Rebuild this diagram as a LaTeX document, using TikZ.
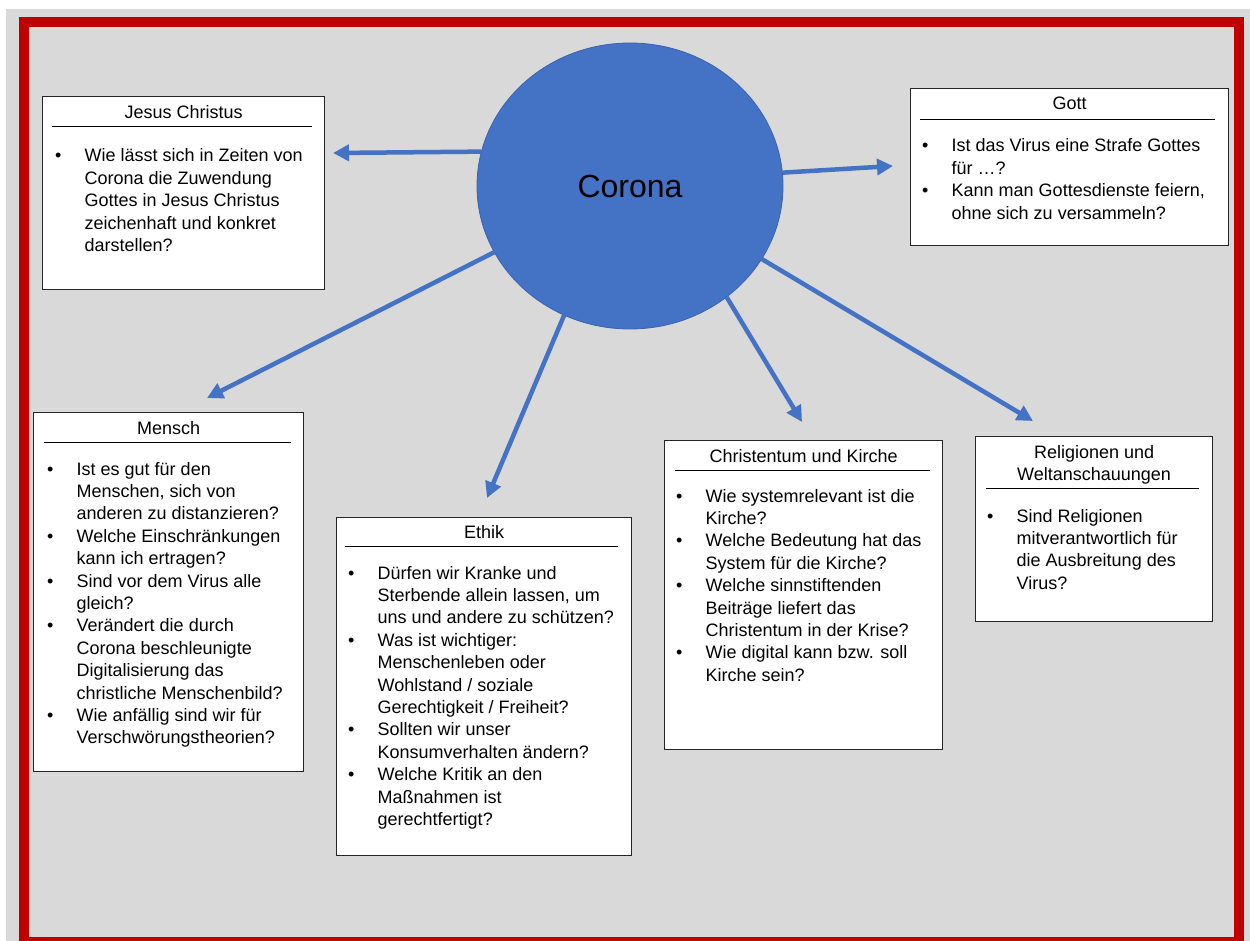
\documentclass[tikz,border=0pt]{standalone}
\usepackage{fontspec}
\setmainfont{Liberation Sans}
\usetikzlibrary{arrows.meta,shapes.geometric}
\definecolor{bgray}{HTML}{D9D9D9}
\definecolor{fred}{HTML}{C00000}
\definecolor{cblue}{HTML}{4472C4}
\definecolor{cedge}{HTML}{3A63B0}
\newlength{\bw}
\setlength{\bw}{29.5pt}
\newcommand{\itm}{\makebox[\bw][l]{\raisebox{0pt}{•}}}
\newcommand{\cnt}{\hspace*{\bw}}
\tikzset{
  box/.style={draw=black!85, line width=1.2pt, fill=white, rectangle, inner sep=0pt, anchor=north west},
  ttl/.style={anchor=base, inner sep=0pt, font=\fontsize{18}{22}\selectfont},
  body/.style={anchor=base west, inner sep=0pt, font=\fontsize{18}{22.4}\selectfont},
  uline/.style={line width=0.9pt, black},
  arr/.style={cblue, line width=4.5pt, -{Triangle[length=16pt,width=16pt]}},
}
\begin{document}
\begin{tikzpicture}[x=1pt,y=-1pt]
\useasboundingbox (0,0) rectangle (1250,941);
\fill[white] (0,0) rectangle (1250,941);
\fill[bgray] (6,9) rectangle (1250,941);
\draw[fred, line width=10pt] (24,22) rectangle (1239,942);

% central ellipse
\node[ellipse, fill=cblue, draw=cedge, line width=0.8pt, minimum width=306pt, minimum height=286pt, inner sep=0pt, font=\fontsize{32}{36}\selectfont] (corona) at (630,186) {Corona};

% boxes
\node[box, minimum width=282pt, minimum height=193pt] (jesus) at (42,96) {};
\node[box, minimum width=318pt, minimum height=157pt] (gott) at (910,88) {};
\node[box, minimum width=270pt, minimum height=359pt] (mensch) at (33,412) {};
\node[box, minimum width=295pt, minimum height=338pt] (ethik) at (336,517) {};
\node[box, minimum width=278pt, minimum height=309pt] (kirche) at (664,440) {};
\node[box, minimum width=237pt, minimum height=185pt] (relig) at (975,436) {};

% titles
\node[ttl] (tj) at (jesus.north |- 0,119) {Jesus Christus};
\draw[uline] (52,126) -- (312,126);
\node[ttl] (tg) at (gott.north |- 0,110) {Gott};
\draw[uline] (920,119) -- (1215,119);
\node[ttl] (tm) at (mensch.north |- 0,434) {Mensch};
\draw[uline] (44,442) -- (291,442);
\node[ttl] (te) at (ethik.north |- 0,538) {Ethik};
\draw[uline] (345,546) -- (618,546);
\node[ttl] (tk) at (kirche.north |- 0,462) {Christentum und Kirche};
\draw[uline] (675,470) -- (930,470);
\node[ttl] (tr) at (relig.north |- 0,458) {\begin{tabular}[t]{@{}c@{}}Religionen und\\Weltanschauungen\end{tabular}};
\draw[uline] (986,488) -- (1199,488);

% bodies
\node[body] (bj) at (55,162) {\begin{tabular}[t]{@{}l@{}}
\itm Wie lässt sich in Zeiten von\\
\cnt Corona die Zuwendung\\
\cnt Gottes in Jesus Christus\\
\cnt zeichenhaft und konkret\\
\cnt darstellen?
\end{tabular}};

\node[body] (bg) at (922,152) {\begin{tabular}[t]{@{}l@{}}
\itm Ist das Virus eine Strafe Gottes\\
\cnt für …?\\
\itm Kann man Gottesdienste feiern,\\
\cnt ohne sich zu versammeln?
\end{tabular}};

\node[body] (bm) at (47,475) {\begin{tabular}[t]{@{}l@{}}
\itm Ist es gut für den\\
\cnt Menschen, sich von\\
\cnt anderen zu distanzieren?\\
\itm Welche Einschränkungen\\
\cnt kann ich ertragen?\\
\itm Sind vor dem Virus alle\\
\cnt gleich?\\
\itm Verändert die durch\\
\cnt Corona beschleunigte\\
\cnt Digitalisierung das\\
\cnt christliche Menschenbild?\\
\itm Wie anfällig sind wir für\\
\cnt Verschwörungstheorien?
\end{tabular}};

\node[body] (be) at (348,579) {\begin{tabular}[t]{@{}l@{}}
\itm Dürfen wir Kranke und\\
\cnt Sterbende allein lassen, um\\
\cnt uns und andere zu schützen?\\
\itm Was ist wichtiger:\\
\cnt Menschenleben oder\\
\cnt Wohlstand / soziale\\
\cnt Gerechtigkeit / Freiheit?\\
\itm Sollten wir unser\\
\cnt Konsumverhalten ändern?\\
\itm Welche Kritik an den\\
\cnt Maßnahmen ist\\
\cnt gerechtfertigt?
\end{tabular}};

\node[body] (bk) at (676,502) {\begin{tabular}[t]{@{}l@{}}
\itm Wie systemrelevant ist die\\
\cnt Kirche?\\
\itm Welche Bedeutung hat das\\
\cnt System für die Kirche?\\
\itm Welche sinnstiftenden\\
\cnt Beiträge liefert das\\
\cnt Christentum in der Krise?\\
\itm Wie digital kann bzw. soll\\
\cnt Kirche sein?
\end{tabular}};

\node[body] (br) at (987,522) {\begin{tabular}[t]{@{}l@{}}
\itm Sind Religionen\\
\cnt mitverantwortlich für\\
\cnt die Ausbreitung des\\
\cnt Virus?
\end{tabular}};

% arrow tips
\coordinate (pj) at (333,153);
\coordinate (pg) at (893,166);
\coordinate (pm) at (207,398);
\coordinate (pe) at (487,498);
\coordinate (pk) at (802,422);
\coordinate (pr) at (1033,421);

\draw[arr] (corona.167.4) -- (pj);
\draw[arr] (corona.5.2) -- (pg);
\draw[arr] (corona.206.4) -- (pm);
\draw[arr] (corona.243) -- (pe);
\draw[arr] (corona.311.8) -- (pk);
\draw[arr] (corona.331.2) -- (pr);
\end{tikzpicture}
\end{document}
